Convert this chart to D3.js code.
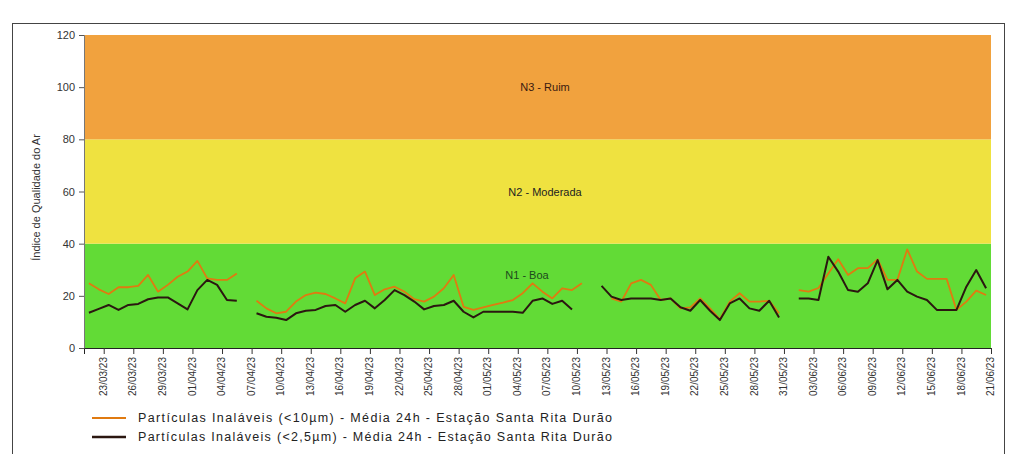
<html lang="pt">
<head>
<meta charset="utf-8">
<style>
body { margin: 0; background: #fff; }
svg text { font-family: Arial, "Liberation Sans", sans-serif; }
</style>
</head>
<body>
<script type='text/javascript' src='https://d3js.org/d3.v7.min.js'></script>
<script>
var width = 1017, height = 454;

// daily categories start on 21/03/23, one value per day (null = no data)
const startDay = new Date(2023, 2, 21);

const tickLabels = ['23/03/23','26/03/23','29/03/23','01/04/23','04/04/23','07/04/23','10/04/23',
  '13/04/23','16/04/23','19/04/23','22/04/23','25/04/23','28/04/23','01/05/23','04/05/23',
  '07/05/23','10/05/23','13/05/23','16/05/23','19/05/23','22/05/23','25/05/23','28/05/23',
  '31/05/23','03/06/23','06/06/23','09/06/23','12/06/23','15/06/23','18/06/23','21/06/23'];

// Partículas Inaláveis (<10µm)
const pm10 = [
  24.8, 22.5, 20.7, 23.3, 23.3, 23.8, 28, 21.6, 24.2, 27.3, 29.3, 33.4, 26.7, 26.1, 26.1, 28.6,
  null,
  18.1, 15.2, 13.3, 13.9, 17.8, 20.3, 21.2, 20.7, 19, 17.1, 26.7, 29.3, 20.3, 22.5, 23.5, 21.6,
  18.7, 17.8, 19.7, 22.9, 28, 15.8, 14.6, 15.6, 16.5, 17.4, 18.4, 21, 24.8, 21.6, 19, 22.9, 22.2, 24.8,
  null, null,
  19, 17.8, 24.8, 26.1, 24.2, 18.4, 19, 15.2, 15.6, 19, 15.2, 11, 17.8, 21, 17.8, 17.8, 18.1, 13.3,
  null,
  22.2, 21.6, 23, 28.6, 34, 28, 30.6, 30.6, 34, 26.1, 26.1, 37.8, 29.3, 26.5, 26.5, 26.5, 14.6, 17.8, 22, 20.3
];

// Partículas Inaláveis (<2,5µm)
const pm25 = [
  13.5, 15, 16.5, 14.6, 16.5, 16.9, 18.7, 19.4, 19.4, 17.1, 14.8, 22.2, 26.1, 24.2, 18.4, 18.1,
  null,
  13.3, 12, 11.6, 10.7, 13.3, 14.3, 14.6, 16.1, 16.5, 13.9, 16.5, 18.1, 15.2, 18.4, 22.2, 20.3,
  17.8, 14.8, 16.1, 16.5, 18.1, 13.9, 11.7, 13.9, 13.9, 13.9, 13.9, 13.5, 18.1, 19, 16.9, 18.1, 14.8,
  null, null,
  23.8, 19.7, 18.4, 19, 19, 19, 18.4, 19, 15.6, 14.3, 18.4, 14.3, 10.7, 17.1, 19, 15.2, 14.3, 18.1, 11.7,
  null,
  19, 19, 18.4, 35, 29.3, 22.2, 21.6, 24.8, 33.7, 22.5, 26.1, 21.6, 19.7, 18.4, 14.6, 14.6, 14.6, 23.5, 29.9, 22.9
];

const bands = [
  {from: 0, to: 40, label: 'N1 - Boa', color: '#62db36', text: '#1d4a1d'},
  {from: 40, to: 80, label: 'N2 - Moderada', color: '#efe240', text: '#222'},
  {from: 80, to: 120, label: 'N3 - Ruim', color: '#f1a23e', text: '#3a1a10'}
];
const yTicks = [0, 20, 40, 60, 80, 100, 120];
const legendLabels = [
  'Partículas Inaláveis (<10µm) - Média 24h - Estação Santa Rita Durão',
  'Partículas Inaláveis (<2,5µm) - Média 24h - Estação Santa Rita Durão'
];
const seriesColors = ['#e07a10', '#2b1710'];

console.log(pm10.length, pm25.length);

var svg = d3.select('body').append('svg').attr('width', width).attr('height', height);

// outer frame
svg.append('rect').attr('x', 12.5).attr('y', 23.5).attr('width', 992).attr('height', 470)
  .attr('fill', 'none').attr('stroke', '#444').attr('stroke-width', 1);

var pLeft = 84, pRight = 991, pTop = 35, pBottom = 348;
var x = d3.scaleLinear().domain([0, pm10.length]).range([pLeft, pRight]);
var y = d3.scaleLinear().domain([0, 120]).range([pBottom, pTop]);

// bands
svg.selectAll('rect.band').data(bands).join('rect').attr('class', 'band')
  .attr('x', pLeft).attr('width', pRight - pLeft)
  .attr('y', function(d) { return y(d.to); })
  .attr('height', function(d) { return y(d.from) - y(d.to); })
  .attr('fill', function(d) { return d.color; });

var labelPos = [{x: 527, v: 28}, {x: 545, v: 60}, {x: 545, v: 100}];
svg.selectAll('text.band').data(bands).join('text').attr('class', 'band')
  .attr('x', function(d, i) { return labelPos[i].x; })
  .attr('y', function(d, i) { return y(labelPos[i].v) + 4; })
  .attr('text-anchor', 'middle').attr('font-size', 11)
  .attr('fill', function(d) { return d.text; })
  .text(function(d) { return d.label; });

// y axis
var yAxis = d3.axisLeft(y).tickValues(yTicks).tickSize(5).tickPadding(4);
var gy = svg.append('g').attr('transform', 'translate(' + pLeft + ',0)').call(yAxis);
gy.select('.domain').attr('stroke', '#777');
gy.selectAll('.tick line').attr('stroke', '#555');
gy.selectAll('text').attr('font-size', 11).attr('fill', '#333');

svg.append('text')
  .attr('transform', 'translate(40,' + ((pTop + pBottom) / 2 + 6) + ') rotate(-90)')
  .attr('text-anchor', 'middle').attr('font-size', 11).attr('fill', '#333')
  .text('Índice de Qualidade do Ar');

// x axis
var tickIdx = tickLabels.map(function(d, j) { return 2 + 3 * j; });
var xAxis = d3.axisBottom(x).tickValues(tickIdx).tickSize(6).tickPadding(3)
  .tickFormat(function(d, j) { return tickLabels[j]; });
var gx = svg.append('g').attr('transform', 'translate(0,' + pBottom + ')').call(xAxis);
gx.select('.domain').attr('stroke', '#222');
gx.selectAll('.tick line').attr('stroke', '#333');
gx.selectAll('text').attr('font-size', 10).attr('fill', '#333')
  .attr('text-anchor', 'end').attr('dy', null)
  .attr('transform', 'translate(0,3) rotate(-90)')
  .attr('x', -6).attr('y', 0).attr('dominant-baseline', 'middle');

// lines
var line = d3.line()
  .defined(function(d) { return d != null; })
  .x(function(d, i) { return x(i + 0.5); })
  .y(function(d) { return y(d); });

[pm10, pm25].forEach(function(s, k) {
  svg.append('path').datum(s).attr('d', line)
    .attr('fill', 'none').attr('stroke', seriesColors[k])
    .attr('stroke-width', k == 0 ? 1.8 : 2).attr('stroke-linejoin', 'round');
});

// legend
legendLabels.forEach(function(t, k) {
  var ly = 418 + k * 19;
  svg.append('line').attr('x1', 92).attr('x2', 126).attr('y1', ly).attr('y2', ly)
    .attr('stroke', seriesColors[k]).attr('stroke-width', k == 0 ? 1.8 : 2.5);
  svg.append('text').attr('x', 138).attr('y', ly + 4).attr('font-size', 12.5)
    .attr('textLength', 474).attr('lengthAdjust', 'spacing')
    .attr('fill', '#222').text(t);
});

console.log('ready..');
</script>
</body>
</html>
